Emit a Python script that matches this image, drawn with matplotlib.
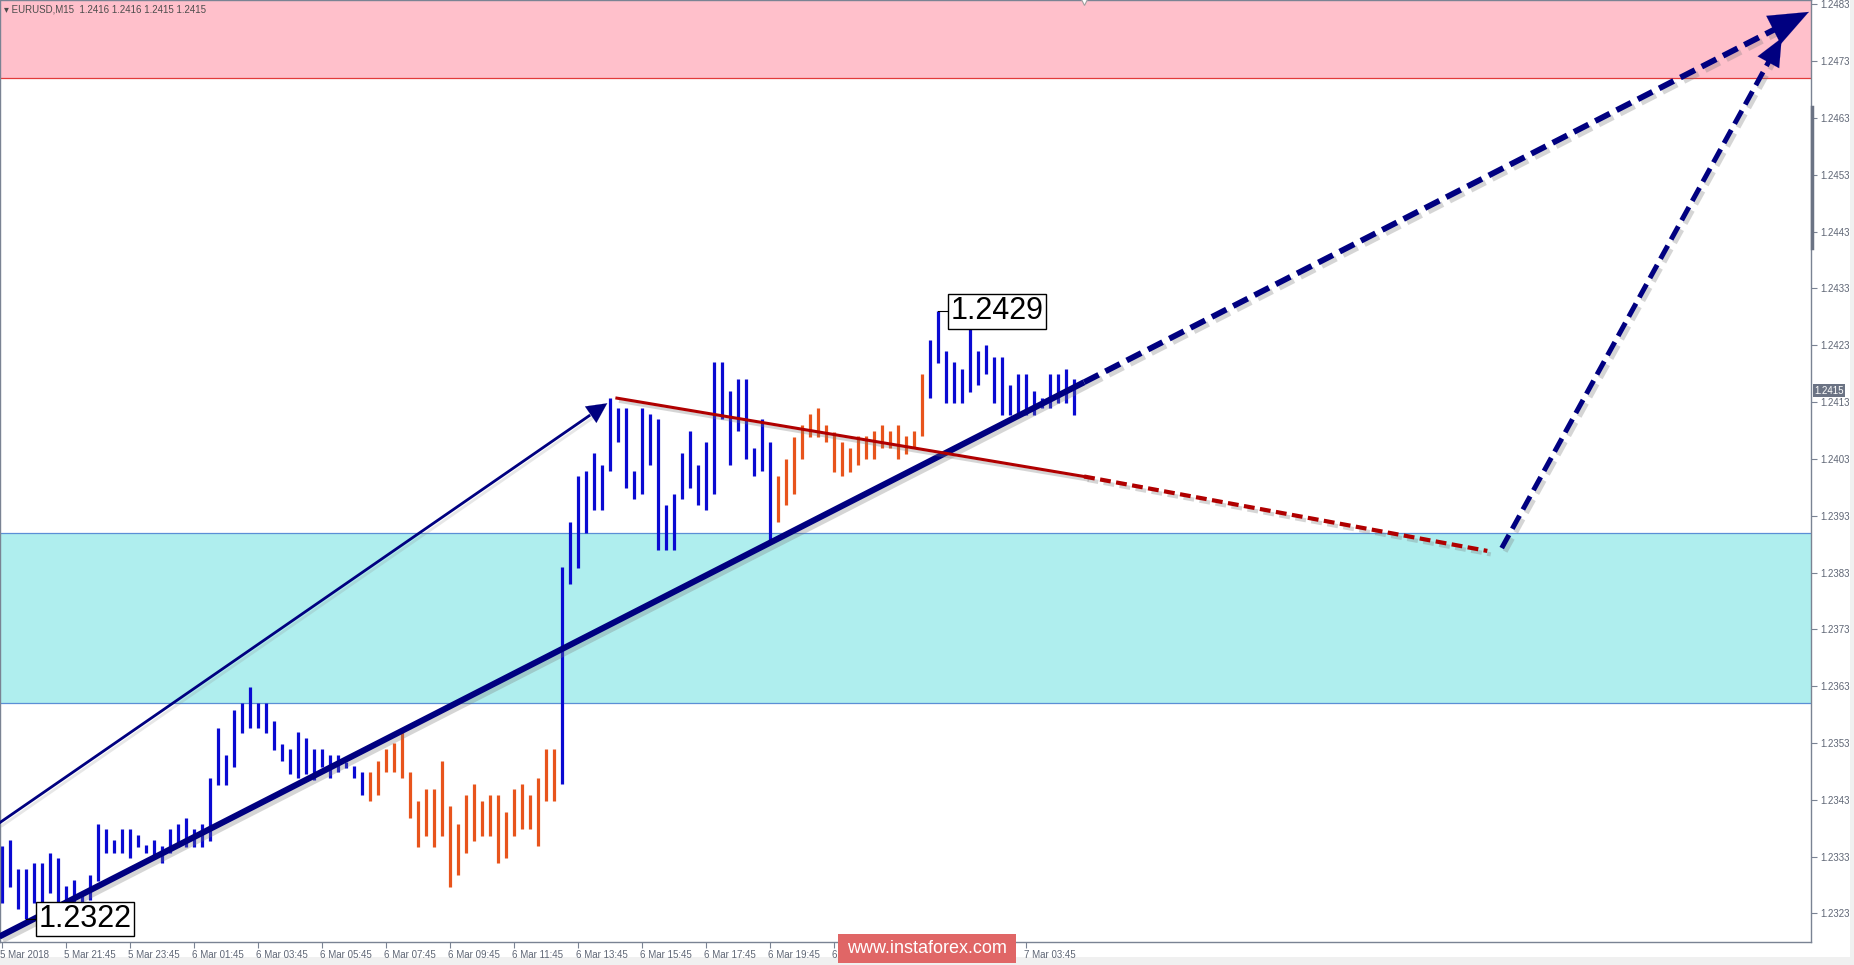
import numpy as np
import matplotlib
matplotlib.use("Agg")
import matplotlib.pyplot as plt
import matplotlib.patheffects as pe
from matplotlib.patches import Rectangle
from matplotlib.transforms import ScaledTranslation, blended_transform_factory, Bbox

plt.rcParams['font.family'] = ['Liberation Sans', 'DejaVu Sans']

# EURUSD M15 bars from 5 Mar 19:45, high / low
highs = [1.23348, 1.23359, 1.23308, 1.23308, 1.23319, 1.23319, 1.23337, 1.23327, 1.23278, 1.23289,
         1.23268, 1.23297, 1.23388, 1.23378, 1.23359, 1.23378, 1.23378, 1.23368, 1.23350, 1.23359,
         1.23348, 1.23378, 1.23388, 1.23397, 1.23378, 1.23388, 1.23468, 1.23557, 1.23509, 1.23588,
         1.23600, 1.23629, 1.23600, 1.23600, 1.23569, 1.23528, 1.23519, 1.23550, 1.23538, 1.23519,
         1.23519, 1.23509, 1.23509, 1.23497, 1.23489, 1.23479, 1.23479, 1.23498, 1.23519, 1.23529,
         1.23550, 1.23479, 1.23428, 1.23448, 1.23448, 1.23498, 1.23419, 1.23388, 1.23438, 1.23458,
         1.23428, 1.23438, 1.23438, 1.23409, 1.23448, 1.23458, 1.23438, 1.23468, 1.23519, 1.23519,
         1.23839, 1.23919, 1.24000, 1.24009, 1.24040, 1.24019, 1.24138, 1.24119, 1.24119, 1.24009,
         1.24119, 1.24109, 1.24100, 1.23949, 1.23969, 1.24040, 1.24080, 1.24019, 1.24060, 1.24201,
         1.24201, 1.24150, 1.24170, 1.24170, 1.24050, 1.24100, 1.24060, 1.24000, 1.24029, 1.24069,
         1.24090, 1.24109, 1.24119, 1.24090, 1.24078, 1.24060, 1.24050, 1.24070, 1.24070, 1.24079,
         1.24090, 1.24079, 1.24090, 1.24070, 1.24079, 1.24179, 1.24239, 1.24290, 1.24220, 1.24201,
         1.24189, 1.24269, 1.24220, 1.24231, 1.24209, 1.24209, 1.24160, 1.24179, 1.24179, 1.24150,
         1.24138, 1.24179, 1.24179, 1.24189, 1.24170]
lows = [1.23248, 1.23277, 1.23237, 1.23220, 1.23248, 1.23233, 1.23266, 1.23248, 1.23237, 1.23241,
        1.23227, 1.23253, 1.23287, 1.23337, 1.23337, 1.23337, 1.23327, 1.23347, 1.23337, 1.23327,
        1.23318, 1.23337, 1.23347, 1.23347, 1.23347, 1.23347, 1.23358, 1.23456, 1.23456, 1.23488,
        1.23548, 1.23557, 1.23557, 1.23548, 1.23518, 1.23499, 1.23476, 1.23468, 1.23476, 1.23465,
        1.23488, 1.23468, 1.23478, 1.23485, 1.23468, 1.23438, 1.23427, 1.23438, 1.23478, 1.23478,
        1.23468, 1.23397, 1.23347, 1.23366, 1.23347, 1.23366, 1.23277, 1.23297, 1.23337, 1.23358,
        1.23366, 1.23366, 1.23318, 1.23327, 1.23366, 1.23378, 1.23378, 1.23348, 1.23427, 1.23427,
        1.23458, 1.23810, 1.23838, 1.23900, 1.23940, 1.23940, 1.24009, 1.24060, 1.23978, 1.23959,
        1.23969, 1.24019, 1.23870, 1.23870, 1.23870, 1.23959, 1.23978, 1.23949, 1.23940, 1.23969,
        1.24100, 1.24019, 1.24080, 1.24029, 1.24000, 1.24009, 1.23888, 1.23919, 1.23949, 1.23969,
        1.24029, 1.24069, 1.24069, 1.24060, 1.24007, 1.24000, 1.24007, 1.24019, 1.24029, 1.24029,
        1.24049, 1.24049, 1.24029, 1.24039, 1.24049, 1.24070, 1.24138, 1.24199, 1.24129, 1.24129,
        1.24129, 1.24148, 1.24160, 1.24179, 1.24129, 1.24107, 1.24107, 1.24107, 1.24107, 1.24107,
        1.24119, 1.24119, 1.24129, 1.24129, 1.24107]
down_waves = [(46, 69), (97, 115)]   # bar index ranges drawn in orange

price_ticks = [1.2483, 1.2473, 1.2463, 1.2453, 1.2443, 1.2433, 1.2423, 1.2413, 1.2403,
               1.2393, 1.2383, 1.2373, 1.2363, 1.2353, 1.2343, 1.2333, 1.2323]
time_ticks = [0, 8, 16, 24, 32, 40, 48, 56, 64, 72, 80, 88, 96, 104, 112, 120, 128]
# labels from 104 to 120 sit under the watermark in the reference, only "6 M" shows
time_labels = ["5 Mar 2018", "5 Mar 21:45", "5 Mar 23:45", "6 Mar 01:45", "6 Mar 03:45",
               "6 Mar 05:45", "6 Mar 07:45", "6 Mar 09:45", "6 Mar 11:45", "6 Mar 13:45",
               "6 Mar 15:45", "6 Mar 17:45", "6 Mar 19:45", "6 M", "",
               "", "7 Mar 03:45"]

sell_zone = (1.2470, 1.2490)
buy_zone = (1.2360, 1.2390)
last_price = 1.2415

# drawn lines: (bar index, price)
support_line = [(-0.3, 1.23189), (135.3, 1.24165)]
support_proj = [(135.3, 1.24165), (225.9, 1.24817)]
wave_arrow = [(-0.3, 1.23389), (75.7, 1.24128)]
red_line = [(76.9, 1.24137), (135.3, 1.23999)]
red_proj = [(135.3, 1.23999), (185.7, 1.23868)]
up_proj = [(187.5, 1.23873), (222.5, 1.24771)]

navy = '#000080'
blue = '#0a0ad2'
orange = '#e8541c'
axis_col = '#7a8393'
text_col = '#5f6675'

fig = plt.figure(figsize=(18.54, 9.65), dpi=100)
fig.patch.set_facecolor('white')
ax = fig.add_axes([0, 23 / 965, 1811 / 1854, 942 / 965])
ax.set_xlim(-0.21, 226.16)
ax.set_ylim(1.231795, 1.248379)

ax.axhspan(*sell_zone, fc='#ffc0cb', ec='none', zorder=0)
ax.axhline(sell_zone[0], color='#e23b3b', lw=0.9, zorder=0.5)
ax.axhspan(*buy_zone, fc='#afeeee', ec='none', zorder=0)
ax.axhline(buy_zone[0], color='#5b8fd6', lw=0.9, zorder=0.5)
ax.axhline(buy_zone[1], color='#5b8fd6', lw=0.9, zorder=0.5)

idx = np.arange(len(highs))
cols = [blue] * len(highs)
for a, b in down_waves:
    for k in range(a, b + 1):
        cols[k] = orange
ax.vlines(idx, lows, highs, colors=cols, lw=2.3, zorder=2)

shadow = [pe.SimpleLineShadow(offset=(2.5, -2.5), shadow_color='#777777', alpha=0.3), pe.Normal()]


def seg(pts, **kw):
    xs, ys = zip(*pts)
    ax.plot(xs, ys, path_effects=shadow, zorder=3, **kw)


def head(pts, frac, ms, hl, hw):
    (x0, y0), (x1, y1) = pts
    back = (x1 - frac * (x1 - x0), y1 - frac * (y1 - y0))
    ax.annotate('', xy=(x1, y1), xytext=back, zorder=4,
                arrowprops=dict(arrowstyle=f'-|>,head_length={hl},head_width={hw}',
                                color=navy, lw=0.1, shrinkA=0, shrinkB=0,
                                mutation_scale=ms))
    return back


seg(support_line, color=navy, lw=4.4, solid_capstyle='butt')
b = head(support_proj, 0.04, 30, 0.95, 0.38)
seg([support_proj[0], b], color=navy, lw=4.2, ls=(0, (2.8, 1.3)))
b = head(up_proj, 0.045, 22, 0.9, 0.4)
seg([up_proj[0], b], color=navy, lw=3.6, ls=(0, (3.0, 1.4)))
b = head(wave_arrow, 0.03, 16, 0.9, 0.45)
xs, ys = zip(wave_arrow[0], b)
ax.plot(xs, ys, color=navy, lw=2.0, zorder=3,
        path_effects=[pe.SimpleLineShadow(offset=(2, -2), shadow_color='#888888', alpha=0.2),
                      pe.Normal()])
seg(red_line, color='#b00000', lw=2.2)
seg(red_proj, color='#b00000', lw=3.0, ls=(0, (2.6, 1.3)))

# swing labels
ax.plot([117, 118.3], [1.2429, 1.2429], color='black', lw=0.8, zorder=4)
ax.text(118.6, 1.2429, '1.2429', fontsize=22, ha='left', va='center', zorder=5,
        bbox=dict(boxstyle='square,pad=0.08', fc='white', ec='black', lw=1))
ax.plot([3, 4.3], [1.2322, 1.2322], color='black', lw=0.8, zorder=4)
ax.text(4.6, 1.2322, '1.2322', fontsize=22, ha='left', va='center', zorder=5,
        bbox=dict(boxstyle='square,pad=0.08', fc='white', ec='black', lw=1))

ax.text(4 / 1811, 1 - 4 / 942, '\u25be EURUSD,M15  1.2416 1.2416 1.2415 1.2415',
        transform=ax.transAxes, fontsize=7, color='#4d4d4d', ha='left', va='top')
ax.plot([135.3], [1.24836], marker='v', ms=6, mfc='white', mec='#a0a0a0', mew=0.8,
        clip_on=False, zorder=6)

# axes styling
for s in ax.spines.values():
    s.set_color(axis_col)
    s.set_linewidth(1)
ax.yaxis.tick_right()
ax.set_yticks(price_ticks)
ax.set_yticklabels([f'{p:.4f}' for p in price_ticks])
ax.set_xticks(time_ticks)
ax.set_xticklabels(time_labels, ha='left')
ax.tick_params(axis='both', direction='out', length=4, width=0.8, color=axis_col,
               labelcolor=text_col, labelsize=7)
ax.tick_params(axis='y', pad=3)
ax.tick_params(axis='x', pad=1.5)
off = ScaledTranslation(-2 / 100, 0, fig.dpi_scale_trans)
clip = Bbox.from_extents(0, 0, 838, 965)   # watermark hides labels to the right
for lab, t in zip(ax.get_xticklabels(), time_ticks):
    lab.set_transform(lab.get_transform() + off)
    if t == 104:
        lab.set_clip_box(clip)
        lab.set_clip_on(True)

yt = blended_transform_factory(ax.transAxes, ax.transData)
ax.text(1.0018, last_price, f'{last_price:.4f}', transform=yt, fontsize=7, color='white',
        ha='left', va='center', zorder=6,
        bbox=dict(boxstyle='square,pad=0.15', fc='#6b7384', ec='none'))
ax.plot([1.0006, 1.0006], [1.24650, 1.24401], transform=yt, color='#6b7384', lw=2.5,
        clip_on=False, zorder=6)

# frame strips and watermark
fig.patches.append(Rectangle((0, 0), 1, 8 / 965, transform=fig.transFigure,
                             fc='#f0f0f0', ec='none', zorder=-1))
fig.patches.append(Rectangle((1850 / 1854, 0), 4 / 1854, 1, transform=fig.transFigure,
                             fc='#f0f0f0', ec='none', zorder=-1))
fig.patches.append(Rectangle((838 / 1854, 2 / 965), 178 / 1854, 29 / 965,
                             transform=fig.transFigure, fc='#e06666', ec='none', zorder=10))
fig.text(927 / 1854, 16.5 / 965, 'www.instaforex.com', color='white', fontsize=13,
         ha='center', va='center', zorder=11)

fig.savefig('out.png', dpi=100)
